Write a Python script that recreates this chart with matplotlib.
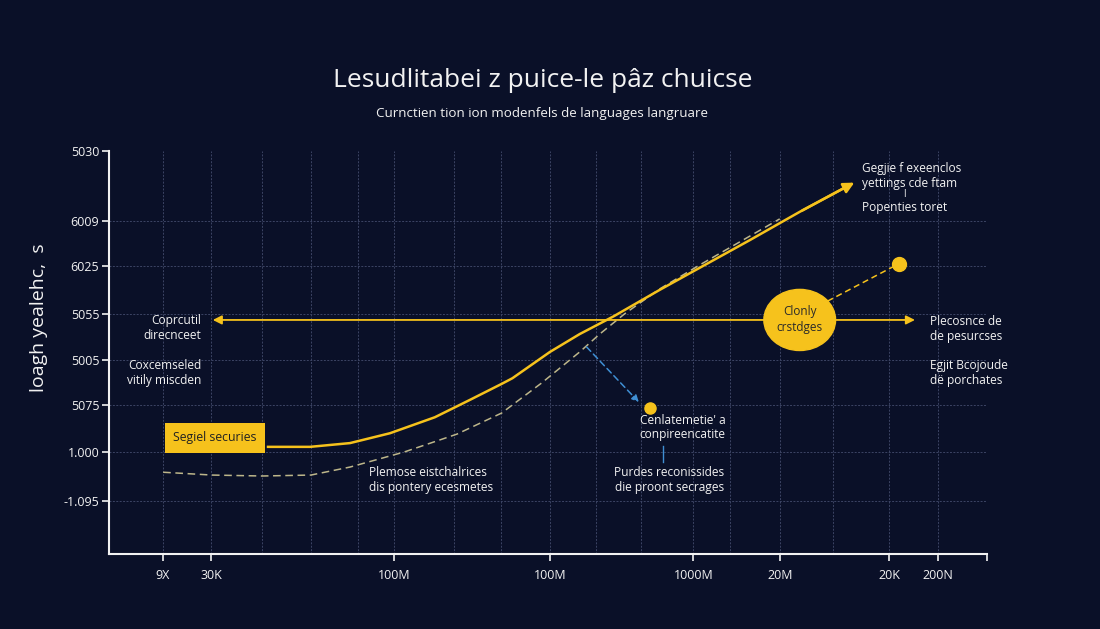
import matplotlib
matplotlib.use("Agg")
import matplotlib.pyplot as plt
from matplotlib.patches import Ellipse, FancyArrowPatch

plt.rcParams['font.family'] = ['Open Sans', 'DejaVu Sans']

# couleurs
BG = '#0a1028'
GOLD = '#f6c21c'
DASH = '#bdb68a'
BLUE = '#3f8fd4'
GRID = '#3c4464'
WHITE = '#f2f2f2'

# axe x (positions des graduations sur une échelle 0-18)
x_ticks = [1.1, 2.1, 5.85, 9.05, 11.98, 13.75, 16.0, 17.0]
x_labels = ['9X', '30K', '100M', '100M', '1000M', '20M', '20K', '200N']
x_minor = [3.14, 4.14, 5.1, 7.07, 8.03, 9.98, 10.9, 12.73, 14.84, 18.0]

# axe y
y_ticks = [1.13, 2.17, 3.17, 4.13, 5.11, 6.13, 7.09, 8.57]
y_labels = ['-1.095', '1.000', '5075', '5005', '5055', '6025', '6009', '5030']

# courbe pleine
solid_x = [3.26, 4.12, 4.94, 5.76, 6.68, 7.40, 8.05, 8.27, 9.04, 9.65, 10.35,
           11.29, 12.11, 13.14, 14.16, 15.18]
solid_y = [2.28, 2.28, 2.36, 2.57, 2.91, 3.28, 3.62, 3.74, 4.30, 4.68, 5.06,
           5.62, 6.09, 6.68, 7.28, 7.85]

# courbe en tirets
dash_x = [1.11, 2.11, 3.14, 4.14, 4.94, 6.05, 7.13, 8.05, 8.87, 9.65, 10.06,
          10.57, 11.29, 12.11, 12.93, 13.75]
dash_y = [1.74, 1.68, 1.66, 1.68, 1.85, 2.17, 2.55, 3.00, 3.64, 4.30, 4.68,
          5.11, 5.64, 6.15, 6.64, 7.13]

# repères
arrow_y = 4.98
arrow_x0, arrow_x1 = 2.07, 16.58
bubble = (14.16, 4.98)
dot_big = (16.19, 6.17)
dot_small = (11.09, 3.11)

fig = plt.figure(figsize=(11, 6.29), dpi=100)
fig.patch.set_facecolor(BG)
ax = fig.add_axes([0.0991, 0.1192, 0.7982, 0.6407])
ax.set_facecolor(BG)
ax.set_xlim(0, 18)
ax.set_ylim(0, 8.574)

# grille
for gx in x_ticks + x_minor:
    ax.axvline(gx, color=GRID, lw=0.7, ls=(0, (2, 1.5)), zorder=0)
for gy in y_ticks[:-1]:
    ax.axhline(gy, color=GRID, lw=0.7, ls=(0, (2, 1.5)), zorder=0)

# axes
for side in ['top', 'right']:
    ax.spines[side].set_visible(False)
for side in ['left', 'bottom']:
    ax.spines[side].set_color(WHITE)
    ax.spines[side].set_linewidth(1.5)
ax.set_xticks(x_ticks + [18.0])
ax.set_xticklabels(x_labels + [''])
ax.set_yticks(y_ticks)
ax.set_yticklabels(y_labels)
ax.tick_params(colors=WHITE, labelsize=9, length=5, width=1.2)
ax.tick_params(axis='x', pad=6)
ax.tick_params(axis='y', pad=2)
ax.set_ylabel('loagh yealehc,  s', color=WHITE, fontsize=14)
ax.yaxis.set_label_coords(-0.069, 0.586)

# courbes
ax.plot(dash_x, dash_y, color=DASH, lw=1.1, ls=(0, (5, 3)), zorder=2)
ax.plot(solid_x, solid_y, color=GOLD, lw=1.8, zorder=3)
ax.annotate('', xy=(solid_x[-1] + 0.15, solid_y[-1] + 0.08),
            xytext=(solid_x[-2], solid_y[-2]),
            arrowprops=dict(arrowstyle='-|>', color=GOLD, lw=1.8,
                            mutation_scale=16))

# flèche horizontale
ax.add_patch(FancyArrowPatch((arrow_x0, arrow_y), (arrow_x1, arrow_y),
                             arrowstyle='<|-|>', color=GOLD, lw=1.3,
                             mutation_scale=13, zorder=3))

# bulle
ax.add_patch(Ellipse(bubble, 1.47, 1.3, color=GOLD, zorder=5))
ax.text(bubble[0], bubble[1], 'Clonly\ncrstdges', ha='center', va='center',
        color='#2a2a2a', fontsize=8.5, zorder=6, linespacing=1.3)
ax.plot([14.73, dot_big[0] - 0.12], [5.38, dot_big[1] - 0.06], color=GOLD,
        lw=1.1, ls=(0, (4, 2.5)), zorder=4)
ax.plot(*dot_big, 'o', color=GOLD, ms=10, zorder=6, clip_on=False)

# flèche bleue
ax.annotate('', xy=(10.90, 3.19), xytext=(9.75, 4.45),
            arrowprops=dict(arrowstyle='-|>', color=BLUE, lw=1.1,
                            ls=(0, (4, 2.5)), mutation_scale=10))
ax.plot(*dot_small, 'o', color=GOLD, ms=8, zorder=6)
ax.plot([11.35, 11.35], [2.30, 1.96], color=BLUE, lw=1.0)

# textes
ax.text(2.17, 2.47, 'Segiel securies', ha='center', va='center',
        color='#222222', fontsize=8.8, zorder=6,
        bbox=dict(boxstyle='square,pad=0.7', fc=GOLD, ec='none'))
ax.text(1.89, 4.81, 'Coprcutil\ndirecnceet', ha='right', va='center',
        color=WHITE, fontsize=8.6, multialignment='right', linespacing=1.15)
ax.text(1.89, 3.85, 'Coxcemseled\nvitily miscden', ha='right', va='center',
        color=WHITE, fontsize=8.6, multialignment='right', linespacing=1.15)
ax.text(5.33, 1.57, 'Plemose eistchalrices\ndis pontery ecesmetes',
        ha='left', va='center', color=WHITE, fontsize=8.6, linespacing=1.15)
ax.text(10.88, 2.69, "Cenlatemetie' a\nconpireencatite", ha='left',
        va='center', color=WHITE, fontsize=8.6, linespacing=1.15)
ax.text(11.49, 1.57, 'Purdes reconissides\ndie proont secrages',
        ha='center', va='center', color=WHITE, fontsize=8.6, linespacing=1.15)
ax.text(15.43, 8.04, 'Gegjie f exeenclos\nyettings cde ftam', ha='left',
        va='center', color=WHITE, fontsize=8.6, linespacing=1.15,
        clip_on=False)
ax.text(16.31, 7.64, 'l', ha='center', va='center', color=WHITE,
        fontsize=7, clip_on=False)
ax.text(15.43, 7.38, 'Popenties toret', ha='left', va='center',
        color=WHITE, fontsize=8.6)
ax.text(16.84, 4.79, 'Plecosnce de\nde pesurcses', ha='left', va='center',
        color=WHITE, fontsize=8.6, linespacing=1.15, clip_on=False)
ax.text(16.84, 3.85, 'Egjit Bcojoude\ndë porchates', ha='left',
        va='center', color=WHITE, fontsize=8.6, linespacing=1.15,
        clip_on=False)

# titres
fig.text(0.493, 0.872, 'Lesudlitabei z puice-le pâz chuicse', ha='center',
         va='center', color=WHITE, fontsize=19)
fig.text(0.493, 0.819, 'Curnctien tion ion modenfels de languages langruare',
         ha='center', va='center', color=WHITE, fontsize=9.6)

fig.savefig('out.png', dpi=100, facecolor=BG)
